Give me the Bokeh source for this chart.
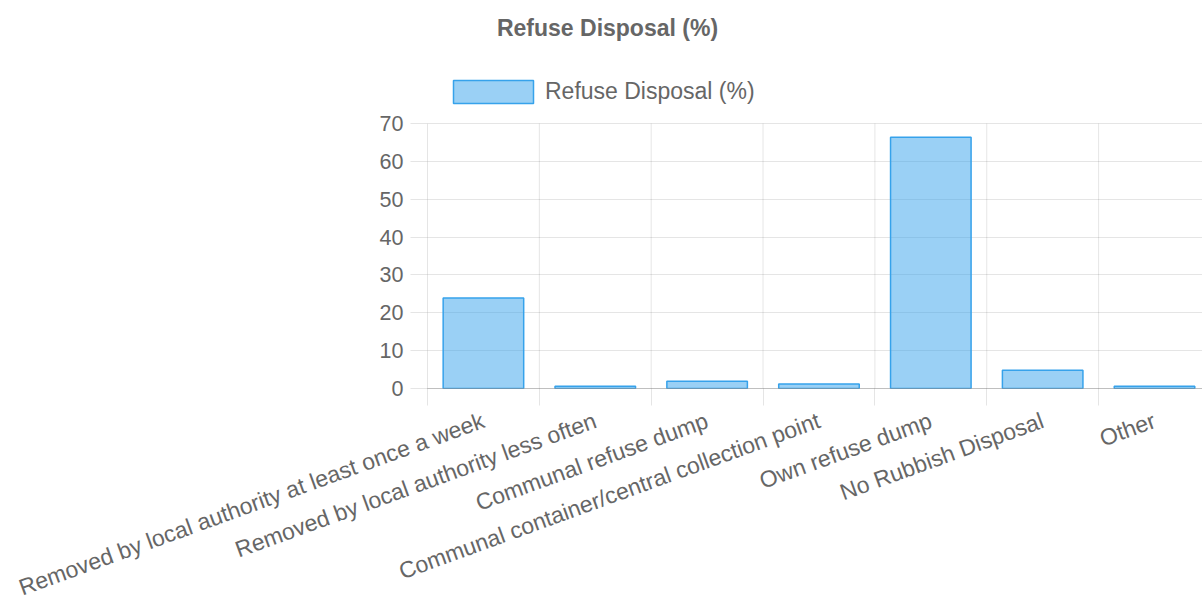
import math

from bokeh.plotting import figure
from bokeh.models import FixedTicker, Label, Legend, LegendItem, Range1d, ColumnDataSource
from bokeh.embed import file_html
from bokeh.resources import INLINE

# Household refuse disposal shares (%)
categories = [
    "Removed by local authority at least once a week",
    "Removed by local authority less often",
    "Communal refuse dump",
    "Communal container/central collection point",
    "Own refuse dump",
    "No Rubbish Disposal",
    "Other",
]
values = [23.9, 0.6, 1.9, 1.2, 66.4, 4.8, 0.6]
y_ticks = [0, 10, 20, 30, 40, 50, 60, 70]
series_name = "Refuse Disposal (%)"

centers = [i + 0.5 for i in range(len(categories))]
bounds = list(range(len(categories) + 1))
y_max = y_ticks[-1]

FONT = "Liberation Sans"
TEXT = "#666666"
GRID = "#000000"

# Canvas geometry: the value axis spans 265px, ending 123px below the top;
# the space above it holds the title and legend.
AXIS_PX = 265
TOP_PX = 123
FRAME_H = AXIS_PX + TOP_PX

p = figure(
    width=1202, height=615,
    output_backend="svg", toolbar_location=None,
    x_range=Range1d(0, 6.929),
    y_range=Range1d(0, y_max * FRAME_H / AXIS_PX),
    min_border_left=427, min_border_right=0,
    min_border_top=0, min_border_bottom=615 - FRAME_H,
    background_fill_color="white", border_fill_color="white",
    outline_line_color=None,
)

src = ColumnDataSource(dict(x=centers, top=values, name=categories))
bars = p.vbar(x="x", top="top", width=0.72, source=src,
              fill_color="#36a2eb", fill_alpha=0.5,
              line_color="#36a2eb", line_width=1.5)

# vertical lines between categories, only over the value span
inner = bounds[1:]
p.segment(x0=inner, y0=[0] * len(inner), x1=inner, y1=[y_max] * len(inner),
          line_color=GRID, line_alpha=0.1, line_width=1)
p.xgrid.visible = False

p.ygrid.ticker = FixedTicker(ticks=y_ticks)
p.ygrid.grid_line_color = GRID
p.ygrid.grid_line_alpha = 0.1
p.ygrid.grid_line_width = 1

# x axis: labels at category centres, short marks at the boundaries
xa = p.xaxis[0]
xa.ticker = FixedTicker(ticks=centers, minor_ticks=bounds)
xa.major_label_overrides = {c: n for c, n in zip(centers, categories)}
xa.major_label_orientation = math.radians(20)
xa.major_tick_line_color = None
xa.major_tick_out = 0
xa.major_tick_in = 0
xa.minor_tick_line_color = GRID
xa.minor_tick_line_alpha = 0.1
xa.minor_tick_out = 17
xa.minor_tick_in = 0
xa.axis_line_color = GRID
xa.axis_line_alpha = 0.25
xa.major_label_standoff = 14
xa.major_label_text_font = FONT
xa.major_label_text_font_size = "23px"
xa.major_label_text_color = TEXT

ya = p.yaxis[0]
ya.ticker = FixedTicker(ticks=y_ticks)
ya.bounds = (0, y_max)
ya.axis_line_color = GRID
ya.axis_line_alpha = 0.1
ya.major_tick_line_color = GRID
ya.major_tick_line_alpha = 0.1
ya.major_tick_out = 17
ya.major_tick_in = 0
ya.minor_tick_line_color = None
ya.major_label_standoff = 7
ya.major_label_text_font = FONT
ya.major_label_text_font_size = "21.5px"
ya.major_label_text_color = TEXT

# legend swatch is drawn inset by 10% of its slot
legend = Legend(
    items=[LegendItem(label=series_name, renderers=[bars])],
    location=(16, FRAME_H - 106),
    orientation="horizontal",
    glyph_width=100, glyph_height=29,
    label_height=29, label_standoff=2,
    label_text_font=FONT, label_text_font_size="23px",
    label_text_color=TEXT,
    padding=0, margin=0, spacing=0,
    border_line_color=None, background_fill_alpha=0,
)
p.add_layout(legend, "center")

title = Label(
    x=180, y=FRAME_H - 27, x_units="screen", y_units="screen",
    text=series_name, text_align="center", text_baseline="middle",
    text_font=FONT, text_font_size="23px", text_font_style="bold",
    text_color=TEXT,
)
p.add_layout(title)

open("out.html", "w").write(file_html(p, INLINE))
